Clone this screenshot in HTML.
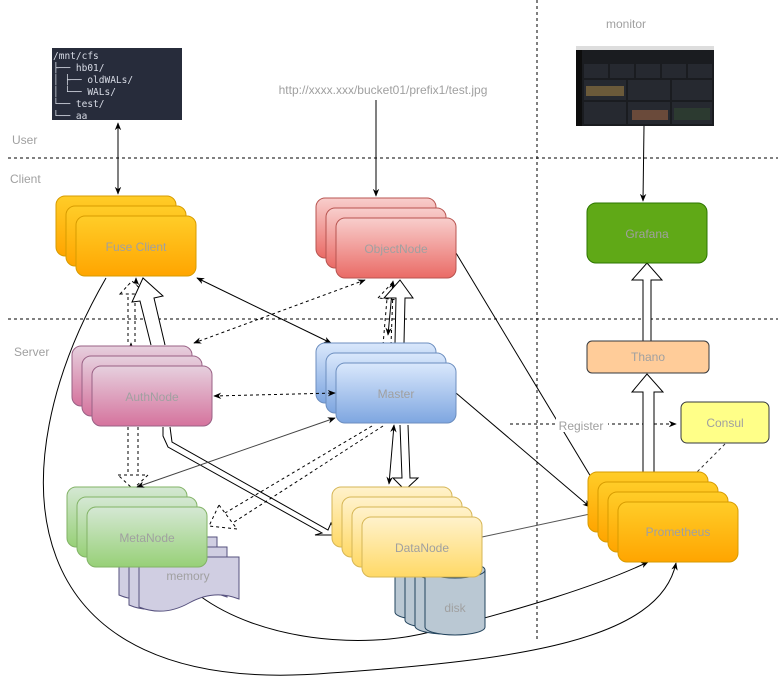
<!DOCTYPE html>
<html><head><meta charset="utf-8"><style>
html,body{margin:0;padding:0;background:#fff;}
svg{display:block;font-family:"Liberation Sans",sans-serif;}
.t{fill:#a0a0a0;font-size:12px;text-anchor:middle;}
</style></head><body>
<svg width="781" height="676" viewBox="0 0 781 676" xmlns="http://www.w3.org/2000/svg">
<defs>
<linearGradient id="gor" x1="0" y1="0" x2="0" y2="1"><stop offset="0" stop-color="#ffcd28"/><stop offset="1" stop-color="#ffa500"/></linearGradient>
<linearGradient id="grd" x1="0" y1="0" x2="0" y2="1"><stop offset="0" stop-color="#f8cecc"/><stop offset="1" stop-color="#ea6b66"/></linearGradient>
<linearGradient id="gbl" x1="0" y1="0" x2="0" y2="1"><stop offset="0" stop-color="#dae8fc"/><stop offset="1" stop-color="#7ea6e0"/></linearGradient>
<linearGradient id="gpk" x1="0" y1="0" x2="0" y2="1"><stop offset="0" stop-color="#e6d0de"/><stop offset="1" stop-color="#d5739d"/></linearGradient>
<linearGradient id="ggr" x1="0" y1="0" x2="0" y2="1"><stop offset="0" stop-color="#d5e8d4"/><stop offset="1" stop-color="#97d077"/></linearGradient>
<linearGradient id="gyl" x1="0" y1="0" x2="0" y2="1"><stop offset="0" stop-color="#fff2cc"/><stop offset="1" stop-color="#ffd966"/></linearGradient>
<marker id="a" viewBox="0 0 10 10" refX="9" refY="5" markerWidth="8" markerHeight="8" orient="auto-start-reverse"><path d="M0,1 L10,5 L0,9 L3,5z" fill="#000"/></marker>
</defs>

<g stroke="#000" stroke-dasharray="3,3" fill="none">
<line x1="8" y1="158" x2="778" y2="158"/>
<line x1="8" y1="319" x2="778" y2="319"/>
<line x1="537" y1="0" x2="537" y2="640"/>
</g>
<text x="12" y="144" fill="#a0a0a0" font-size="12">User</text>
<text x="10" y="183" fill="#a0a0a0" font-size="12">Client</text>
<text x="14" y="356" fill="#a0a0a0" font-size="12">Server</text>
<text x="626" y="28" class="t">monitor</text>
<text x="383" y="94" class="t">http://xxxx.xxx/bucket01/prefix1/test.jpg</text>

<rect x="52" y="48" width="130" height="72" fill="#272c3b"/>
<g font-family="'DejaVu Sans Mono','Liberation Mono',monospace" font-size="9.5" fill="#d8dce6">
<text x="53" y="59">/mnt/cfs</text>
<text x="53" y="71">├── hb01/</text>
<text x="53" y="83">│   ├── oldWALs/</text>
<text x="53" y="95">│   └── WALs/</text>
<text x="53" y="107">└── test/</text>
<text x="53" y="119">    └── aa</text>
</g>

<rect x="576" y="46" width="138" height="80" fill="#1a1c20"/>
<rect x="576" y="46" width="138" height="4" fill="#ddd"/>
<rect x="576" y="50" width="6" height="76" fill="#0d0d0d"/>
<g fill="#262930"><rect x="584" y="64" width="24" height="14"/><rect x="610" y="64" width="24" height="14"/><rect x="636" y="64" width="24" height="14"/><rect x="662" y="64" width="24" height="14"/><rect x="688" y="64" width="24" height="14"/>
<rect x="584" y="80" width="42" height="20"/><rect x="628" y="80" width="42" height="20"/><rect x="672" y="80" width="40" height="20"/>
<rect x="584" y="102" width="42" height="22"/><rect x="628" y="102" width="42" height="22"/><rect x="672" y="102" width="40" height="22"/></g>
<rect x="586" y="86" width="38" height="10" fill="#6b5a3a"/>
<rect x="632" y="110" width="36" height="10" fill="#6a4a3a"/>
<rect x="674" y="108" width="36" height="12" fill="#2c3a30"/>

<g stroke="#000" fill="none" stroke-width="1">
<line x1="118" y1="123" x2="118" y2="194" marker-start="url(#a)" marker-end="url(#a)"/>
<line x1="376" y1="100" x2="376" y2="196" marker-end="url(#a)"/>
<line x1="644" y1="126" x2="643" y2="201" marker-end="url(#a)"/>
<line x1="197" y1="278" x2="331" y2="343" marker-start="url(#a)" marker-end="url(#a)"/>
<line x1="365" y1="280" x2="194" y2="343" stroke-dasharray="3,3" marker-start="url(#a)" marker-end="url(#a)"/>
<line x1="453" y1="248" x2="597" y2="487" marker-end="url(#a)"/>
<line x1="456" y1="393" x2="590" y2="507" marker-end="url(#a)"/>
<line x1="482" y1="537" x2="590" y2="514" stroke="#555"/>
<line x1="510" y1="424" x2="676" y2="424" stroke-dasharray="3,3" marker-end="url(#a)"/>
<line x1="725" y1="444" x2="697" y2="472" stroke="#333" stroke-dasharray="3,3"/>
<path d="M106,278 C-5,470 10,700 330,673 C520,660 660,640 676,563" marker-end="url(#a)"/>
<path d="M200,596 C260,640 360,650 430,632 C520,610 600,585 648,562" marker-end="url(#a)"/>
<line x1="128" y1="285" x2="128" y2="345" stroke-dasharray="3,3"/>
<line x1="135" y1="285" x2="135" y2="345" stroke-dasharray="3,3"/>
<line x1="131" y1="345" x2="131" y2="343" marker-end="url(#a)"/>
<line x1="136" y1="285" x2="136" y2="278" marker-end="url(#a)"/>
<path d="M120,294 L132,281 L146,294 Z" stroke-dasharray="3,3" fill="#fff"/>
<path d="M151,345 L140,301 L132,302 L143,278 L163,296 L154,298 L165,345" fill="#fff"/>
<line x1="128" y1="427" x2="128" y2="475" stroke-dasharray="3,3"/>
<line x1="138" y1="427" x2="138" y2="475" stroke-dasharray="3,3"/>
<path d="M118,475 L148,475 L133,489 Z" stroke-dasharray="3,3" fill="#fff"/>
<path d="M170,427 L172,442 L328,530 L331,523 L336,535 L315,535 L322,533 L168,447 L163,436 L163,427" fill="#fff"/>
<line x1="372" y1="426" x2="225" y2="513" stroke-dasharray="3,3"/>
<line x1="383" y1="426" x2="231" y2="524" stroke-dasharray="3,3"/>
<path d="M219,505 L237,529 L209,526 Z" stroke-dasharray="3,3" fill="#fff"/>
<line x1="383" y1="345" x2="388" y2="287" stroke-dasharray="3,3"/>
<line x1="391" y1="345" x2="393" y2="290" stroke-dasharray="3,3"/>
<path d="M378,298 L392,283 L398,300 Z" stroke-dasharray="3,3" fill="#fff"/>
<line x1="388" y1="335" x2="393" y2="281" marker-start="url(#a)" marker-end="url(#a)"/>
<path d="M395,343 L396,298 L384,298 L400,280 L413,298 L405,298 L404,343" fill="#fff"/>
<line x1="394" y1="425" x2="389" y2="484" marker-start="url(#a)" marker-end="url(#a)"/>
<path d="M400,425 L402,478 L393,478 L405,490 L418,478 L410,478 L408,425" fill="#fff"/>
<path d="M643,341 L643,280 L632,280 L647,263 L662,280 L651,280 L651,341" fill="#fff"/>
<path d="M643,472 L643,392 L632,392 L647,374 L663,392 L654,392 L654,472" fill="#fff"/>
</g>
<rect x="556" y="418" width="52" height="14" fill="#fff"/>
<text x="581" y="430" class="t">Register</text>

<g fill="#d0cee2" stroke="#56517e">
<path d="M119,537 h98 v50 q-25,-10 -50,4 q-25,14 -48,4 z"/>
<path d="M129,547 h98 v50 q-25,-10 -50,4 q-25,14 -48,4 z"/>
<path d="M139,557 h100 v42 q-25,-10 -50,4 q-25,14 -50,4 z"/>
</g>
<text x="188" y="580" class="t">memory</text>

<g fill="#bac8d3" stroke="#23445d">
<path d="M395,560 v52 a30,8 0 0 0 60,0 v-52"/><ellipse cx="425" cy="560" rx="30" ry="8"/>
<path d="M405,566 v54 a30,8 0 0 0 60,0 v-54"/><ellipse cx="435" cy="566" rx="30" ry="8"/>
<path d="M415,572 v54 a30,8 0 0 0 60,0 v-54"/><ellipse cx="445" cy="572" rx="30" ry="8"/>
<path d="M425,570 v57 a30,8 0 0 0 60,0 v-57"/><ellipse cx="455" cy="570" rx="30" ry="8"/>
</g>
<text x="455" y="612" class="t">disk</text>

<g stroke="#d79b00" fill="url(#gor)">
<rect x="56" y="196" width="120" height="60" rx="9"/><rect x="66" y="206" width="120" height="60" rx="9"/><rect x="76" y="216" width="120" height="60" rx="9"/>
</g>
<text x="136" y="251" class="t">Fuse Client</text>

<g stroke="#b85450" fill="url(#grd)">
<rect x="316" y="198" width="120" height="60" rx="9"/><rect x="326" y="208" width="120" height="60" rx="9"/><rect x="336" y="218" width="120" height="60" rx="9"/>
</g>
<text x="396" y="253" class="t">ObjectNode</text>

<g stroke="#6c8ebf" fill="url(#gbl)">
<rect x="316" y="343" width="120" height="60" rx="9"/><rect x="326" y="353" width="120" height="60" rx="9"/><rect x="336" y="363" width="120" height="60" rx="9"/>
</g>
<text x="396" y="398" class="t">Master</text>

<g stroke="#996185" fill="url(#gpk)">
<rect x="72" y="346" width="120" height="60" rx="9"/><rect x="82" y="356" width="120" height="60" rx="9"/><rect x="92" y="366" width="120" height="60" rx="9"/>
</g>
<text x="152" y="401" class="t">AuthNode</text>

<g stroke="#82b366" fill="url(#ggr)">
<rect x="67" y="487" width="120" height="60" rx="9"/><rect x="77" y="497" width="120" height="60" rx="9"/><rect x="87" y="507" width="120" height="60" rx="9"/>
</g>
<text x="147" y="542" class="t">MetaNode</text>

<g stroke="#d6b656" fill="url(#gyl)">
<rect x="332" y="487" width="120" height="60" rx="9"/><rect x="342" y="497" width="120" height="60" rx="9"/><rect x="352" y="507" width="120" height="60" rx="9"/><rect x="362" y="517" width="120" height="60" rx="9"/>
</g>
<text x="422" y="552" class="t">DataNode</text>

<g stroke="#d79b00" fill="url(#gor)">
<rect x="588" y="472" width="120" height="60" rx="9"/><rect x="598" y="482" width="120" height="60" rx="9"/><rect x="608" y="492" width="120" height="60" rx="9"/><rect x="618" y="502" width="120" height="60" rx="9"/>
</g>
<text x="678" y="536" class="t">Prometheus</text>

<!-- connectors drawn over node stacks -->
<g stroke="#000" fill="none">
<line x1="214" y1="396" x2="335" y2="393" stroke-dasharray="3,3" marker-start="url(#a)" marker-end="url(#a)"/>
<line x1="335" y1="418" x2="137" y2="487" stroke="#444" marker-start="url(#a)" marker-end="url(#a)"/>
</g>

<rect x="587" y="203" width="120" height="60" rx="9" fill="#60a917" stroke="#2d7600"/>
<text x="647" y="238" class="t">Grafana</text>
<rect x="587" y="341" width="122" height="32" rx="5" fill="#ffcc99" stroke="#36393d"/>
<text x="648" y="361" class="t">Thano</text>
<rect x="681" y="402" width="88" height="41" rx="6" fill="#ffff88" stroke="#36393d"/>
<text x="725" y="427" class="t">Consul</text>
</svg>
</body></html>
